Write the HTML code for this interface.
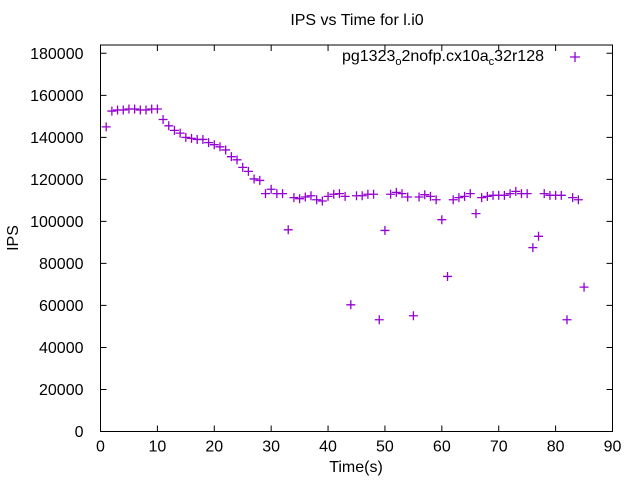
<!DOCTYPE html>
<html><head><meta charset="utf-8"><style>
html,body{margin:0;padding:0;background:#fff;}
svg{display:block;font-family:"Liberation Sans",sans-serif;}
</style></head><body>
<svg id="chart" width="640" height="480" viewBox="0 0 640 480" xmlns="http://www.w3.org/2000/svg">
<rect width="640" height="480" fill="#fff"/>
<text x="357" y="25" font-size="16" text-anchor="middle">IPS vs Time for l.i0</text>
<text transform="translate(18,238) rotate(-90)" font-size="16" text-anchor="middle">IPS</text>
<text x="356" y="472" font-size="16" text-anchor="middle">Time(s)</text>
<g id="axes"></g>
<g id="marks"></g>
<text x="544" y="61" font-size="16" text-anchor="end">pg1323<tspan font-size="11" dy="4">o</tspan><tspan dy="-4">2nofp.cx10a</tspan><tspan font-size="11" dy="4">c</tspan><tspan dy="-4">32r128</tspan></text>
<path d="M570,57h10M575,52v10" stroke="#9400d3" stroke-width="1.3"/>
</svg>
<script>
const times = [1,2,3,4,5,6,7,8,9,10,11,12,13,14,15,16,17,18,19,20,21,22,23,24,25,26,27,28,29,30,31,32,33,34,35,36,37,38,39,40,41,42,43,44,45,46,47,48,49,50,51,52,53,54,55,56,57,58,59,60,61,62,63,64,65,66,67,68,69,70,71,72,73,74,75,76,77,78,79,80,81,82,83,84,85];
const ipsValues = [145000,152500,153000,153000,153500,153500,153000,153000,153500,153500,148500,145500,143300,142000,140000,139500,139000,139000,137500,136500,135500,134000,130800,129300,125700,123800,120200,119500,113200,115300,113200,113200,96000,111300,110800,111600,112200,110300,109700,111900,112900,113200,111900,60300,112200,112200,112900,112900,53200,95700,112900,113800,113200,111600,55100,111600,112700,111900,110300,100800,73800,110300,111300,111900,113200,103700,111300,111900,112400,112400,112400,113200,114300,113200,113200,87500,92900,113200,112400,112400,112400,53200,111300,110300,68700];
const xTicks = [0,10,20,30,40,50,60,70,80,90];
const yTicks = [0,20000,40000,60000,80000,100000,120000,140000,160000,180000];
const L=100.5,R=612.5,B=431.5,T=45;
const xs = t => L + t*(R-L)/90;
const ys = v => B - v*(B-53.3)/180000;
const NS="http://www.w3.org/2000/svg";
const axes=document.getElementById('axes'), marks=document.getElementById('marks');
const frame=document.createElementNS(NS,'rect');
frame.setAttribute('x',L);frame.setAttribute('y',T);frame.setAttribute('width',R-L);frame.setAttribute('height',B-T);
frame.setAttribute('fill','none');frame.setAttribute('stroke','#000');frame.setAttribute('stroke-width','1');


axes.appendChild(frame);
xTicks.forEach(t=>{
  const x=xs(t);
  const p=document.createElementNS(NS,'path');
  p.setAttribute('d',`M${x},${B}v-6M${x},${T}v6`);p.setAttribute('stroke','#000');
  
  
  axes.appendChild(p);
  const tx=document.createElementNS(NS,'text');
  tx.setAttribute('x',x);tx.setAttribute('y',B+20);tx.setAttribute('font-size','16');tx.setAttribute('text-anchor','middle');
  tx.textContent=t;
  
  
  axes.appendChild(tx);
});
yTicks.forEach(v=>{
  const y=ys(v);
  const p=document.createElementNS(NS,'path');
  p.setAttribute('d',`M${L},${y}h6M${R},${y}h-6`);p.setAttribute('stroke','#000');
  
  
  axes.appendChild(p);
  const tx=document.createElementNS(NS,'text');
  tx.setAttribute('x',L-17);tx.setAttribute('y',y+5.5);tx.setAttribute('font-size','16');tx.setAttribute('text-anchor','end');
  tx.textContent=v;
  
  
  axes.appendChild(tx);
});
times.forEach((t,i)=>{
  const x=xs(t),y=ys(ipsValues[i]);
  const p=document.createElementNS(NS,'path');
  p.setAttribute('d',`M${x-4.5},${y}h9M${x},${y-4.5}v9`);
  p.setAttribute('stroke','#9400d3');p.setAttribute('stroke-width','1.3');
  
  
  marks.appendChild(p);
});
</script>
</body></html>
